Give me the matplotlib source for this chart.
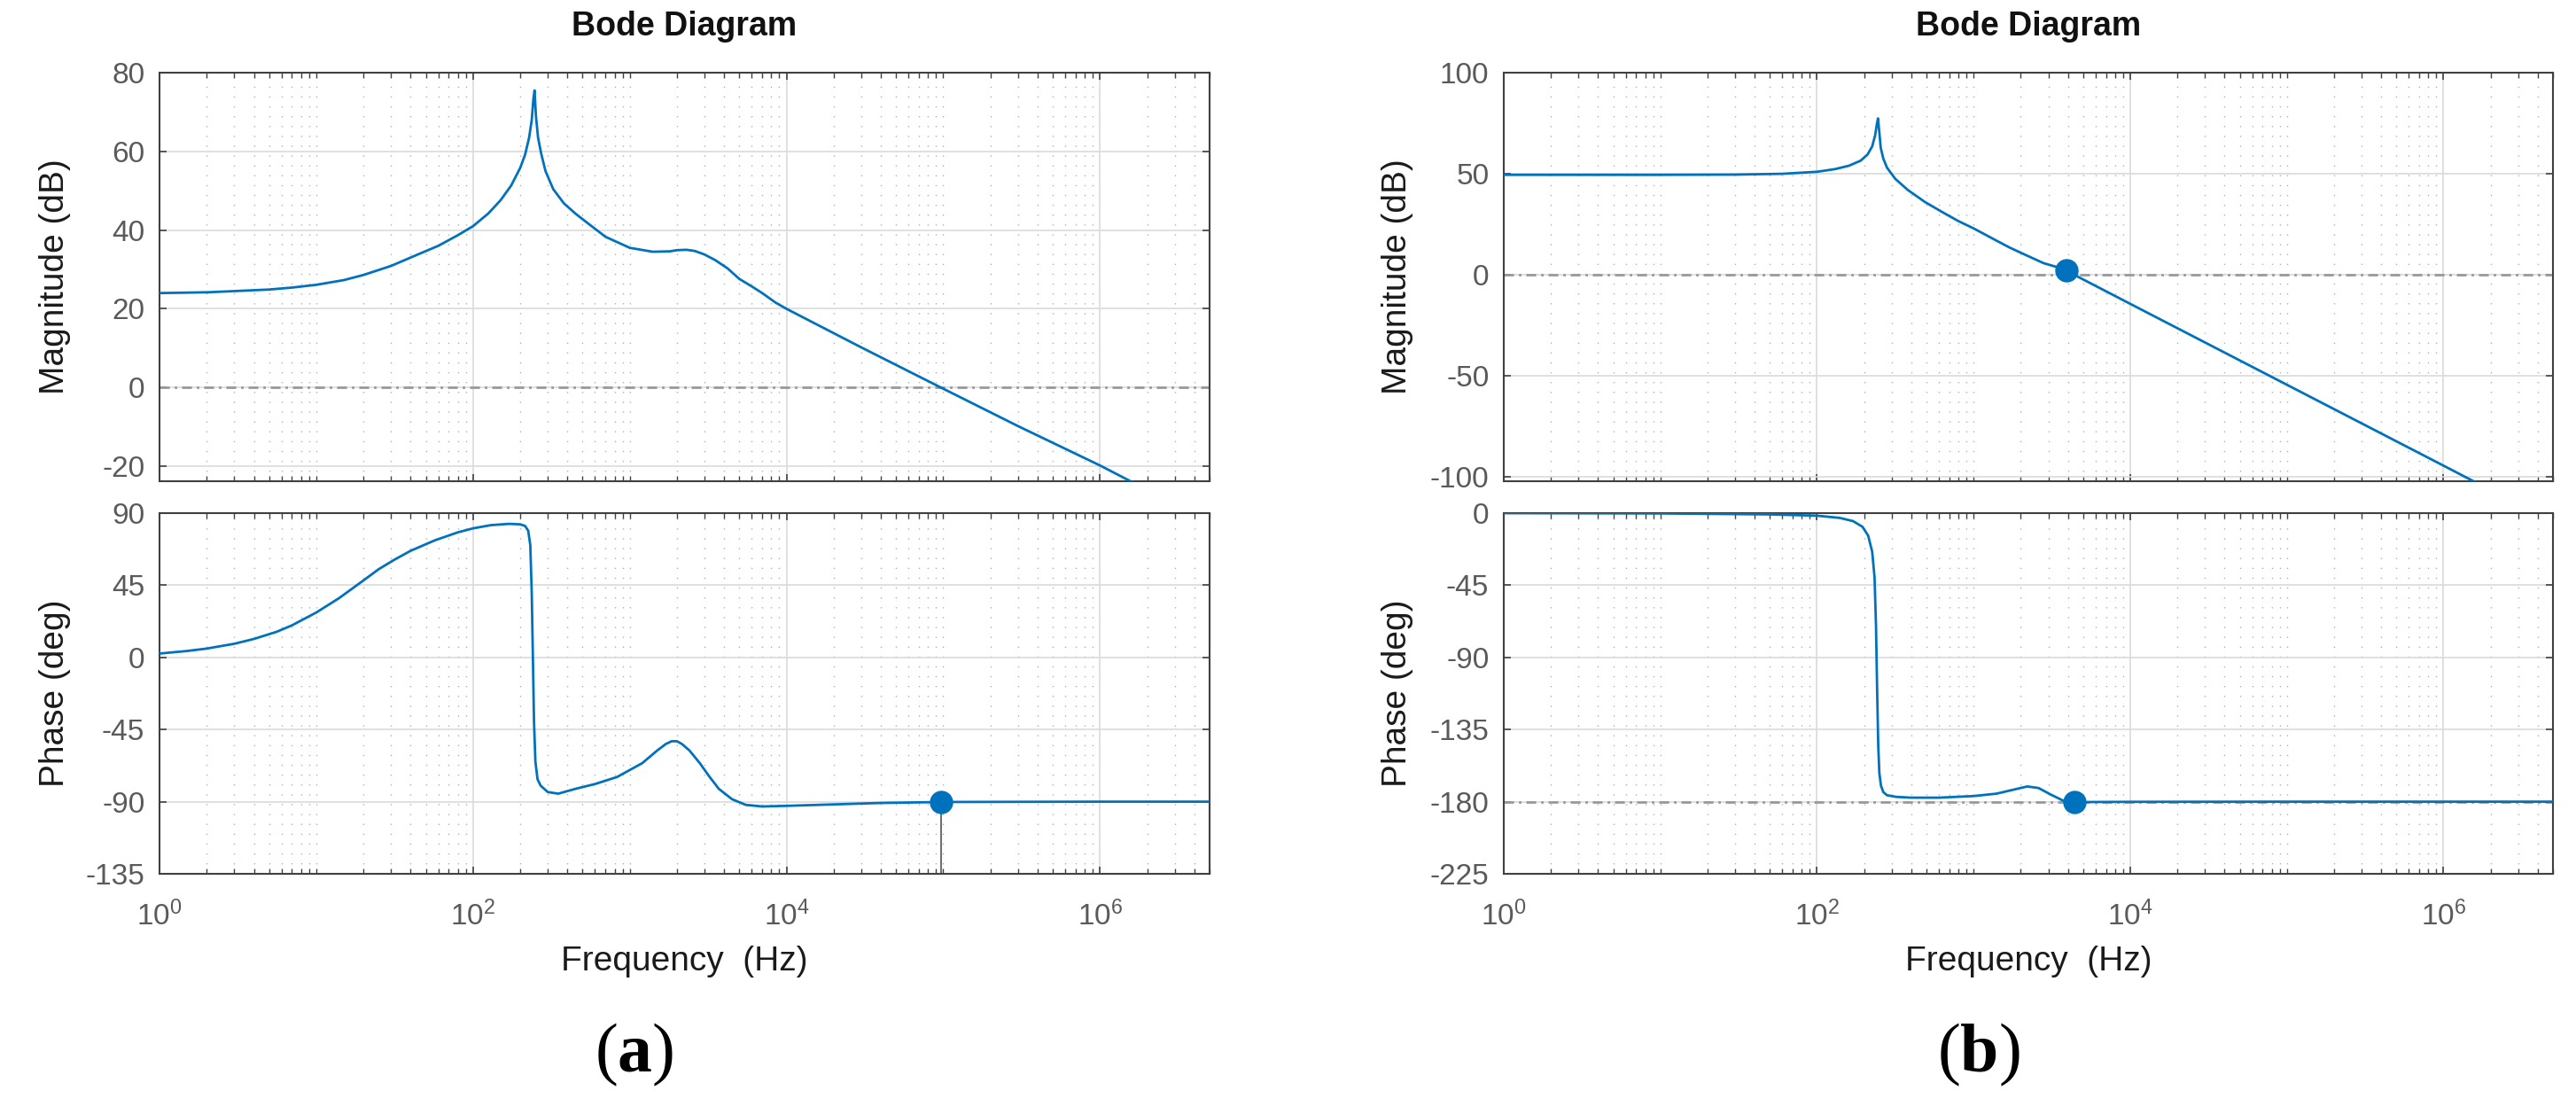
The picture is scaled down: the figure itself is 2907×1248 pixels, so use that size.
import numpy as np
import matplotlib.pyplot as plt
from matplotlib.ticker import LogLocator, NullFormatter

plt.rcParams['font.family'] = ['Liberation Sans', 'DejaVu Sans']
plt.rcParams['axes.unicode_minus'] = False
plt.rcParams['mathtext.fontset'] = 'custom'
plt.rcParams['mathtext.rm'] = 'Liberation Serif'
plt.rcParams['mathtext.bf'] = 'Liberation Serif:bold'

# (a) magnitude
freq_mag_a = [1, 2, 3, 5, 7, 10, 15, 20, 30, 45, 60, 80, 100, 125, 150, 175, 200, 215,
              228, 237, 243, 247, 252, 260, 272, 290, 325, 380, 450, 550, 700, 1000,
              1400, 1800, 2000, 2300, 2600, 3000, 3500, 4200, 5000, 6000, 7000, 8500,
              1e4, 3e4, 1e5, 3e5, 1e6, 1.6e6]
mag_a = [24.0, 24.2, 24.5, 24.9, 25.4, 26.1, 27.3, 28.6, 30.9, 33.9, 36.0, 38.7, 41.0,
         44.2, 47.6, 51.3, 55.8, 59.2, 63.5, 68.0, 73.5, 75.5, 69.0, 63.5, 59.5, 55.0,
         50.4, 46.8, 44.2, 41.5, 38.3, 35.5, 34.5, 34.6, 34.9, 35.0, 34.7, 33.8, 32.4,
         30.3, 27.6, 25.7, 24.0, 21.6, 20.0, 10.2, -0.3, -9.8, -19.8, -24.0]

# (a) phase
freq_ph_a = [1, 1.5, 2, 3, 4, 5.6, 7, 10, 14, 17, 20, 25, 31.6, 40, 57, 80, 100, 130,
             170, 200, 215, 225, 232, 237, 241, 245, 250, 258, 270, 300, 350, 450, 600,
             830, 1200, 1500, 1700, 1850, 2000, 2150, 2400, 2800, 3200, 3700, 4500,
             5500, 7000, 1e4, 2e4, 4e4, 1e5, 1e6, 5e6]
ph_a = [2.4, 4.0, 5.5, 8.5, 11.5, 16.0, 20.0, 28.0, 37.0, 43.0, 48.0, 55.0, 61.0, 66.5,
        73.0, 78.0, 80.5, 82.5, 83.3, 83.0, 82.0, 79.0, 70.0, 40.0, 0.0, -40.0, -65.0,
        -76.0, -80.0, -84.0, -85.0, -82.0, -79.0, -74.6, -66.0, -58.0, -54.0, -52.3,
        -52.3, -54.0, -58.0, -66.0, -74.0, -82.0, -88.5, -92.0, -93.0, -92.6, -91.7,
        -90.8, -90.2, -90.0, -90.0]

# (b) magnitude
freq_mag_b = [1, 10, 30, 60, 100, 130, 160, 190, 210, 225, 235, 241, 245, 249, 255, 265,
              280, 316, 380, 490, 650, 800, 1000, 1320, 1700, 2200, 2800, 3300, 3900,
              4400, 1e4, 1e5, 1e6, 1.6e6]
mag_b = [49.5, 49.5, 49.6, 50.0, 51.0, 52.3, 54.0, 56.5, 59.5, 63.5, 69.0, 74.5, 77.4,
         72.0, 63.0, 57.5, 53.0, 47.5, 42.0, 36.0, 30.5, 26.6, 23.0, 18.0, 13.5, 9.5,
         5.8, 4.2, 2.3, 0.0, -14.3, -54.3, -94.3, -102.5]

# (b) phase
freq_ph_b = [1, 10, 50, 100, 140, 170, 195, 212, 225, 233, 238, 242, 246, 250, 256, 265,
             280, 320, 400, 600, 1000, 1400, 1800, 2200, 2600, 3100, 3700, 3900, 4400,
             6000, 1e4, 1e5, 5e6]
ph_b = [0.0, -0.2, -0.8, -1.6, -3.0, -5.0, -8.5, -14.0, -24.0, -40.0, -70.0, -110.0,
        -145.0, -162.0, -170.0, -174.0, -176.0, -177.0, -177.5, -177.5, -176.5, -175.0,
        -172.5, -170.5, -171.5, -175.5, -179.2, -180.0, -180.3, -180.2, -180.1, -180.0,
        -180.0]

# margin markers (frequency, value)
pm_a = (9.7e4, -90.0)
gm_b = (3.9e3, 2.3)
pm_b = (4.4e3, -180.3)

blue = '#0072BD'
W, H = 2907, 1248
fig = plt.figure(figsize=(W / 100, H / 100), dpi=100)


def box(x0, y0, x1, y1):
    return [x0 / W, 1 - y1 / H, (x1 - x0) / W, (y1 - y0) / H]


def style(ax, ylim, yticks, xlabels):
    ax.set_xscale('log')
    ax.set_xlim(1, 5e6)
    ax.set_ylim(*ylim)
    ax.set_yticks(yticks)
    ax.xaxis.set_major_locator(LogLocator(base=100, numticks=10))
    ax.xaxis.set_minor_locator(LogLocator(base=10, subs=np.arange(1, 10), numticks=100))
    ax.xaxis.set_minor_formatter(NullFormatter())
    ax.set_axisbelow(True)
    ax.grid(which='major', color='#dadada', lw=1.2, ls='-')
    ax.grid(which='minor', axis='x', color='#b0b0b0', lw=1.0, ls=(0, (1, 7)))
    ax.tick_params(which='both', direction='in', top=True, right=True,
                   colors='#404040', labelcolor='#5a5a5a', labelsize=24)
    ax.tick_params(which='major', length=6, width=1.2)
    ax.tick_params(which='minor', length=4, width=1.0)
    ax.tick_params(axis='y', which='minor', left=False, right=False)
    ax.tick_params(axis='y', pad=12)
    ax.tick_params(axis='x', pad=22, labelbottom=xlabels)
    for s in ax.spines.values():
        s.set_color('#404040')
        s.set_linewidth(1.5)


def refline(ax, y):
    ax.axhline(y, color='#999999', lw=2.0, ls=(0, (4, 2, 1, 2)), zorder=1.5)


# panel (a)
ma = fig.add_axes(box(180, 82, 1365, 543))
pa = fig.add_axes(box(180, 579, 1365, 986))
style(ma, (-23.8, 80), [-20, 0, 20, 40, 60, 80], False)
style(pa, (-135, 90), [-135, -90, -45, 0, 45, 90], True)
refline(ma, 0)
ma.plot(freq_mag_a, mag_a, color=blue, lw=2, zorder=3)
pa.plot(freq_ph_a, ph_a, color=blue, lw=2, zorder=3)
pa.plot([pm_a[0], pm_a[0]], [-180, pm_a[1]], color='#707070', lw=1.5, zorder=2.5)
pa.plot(*pm_a, 'o', ms=18, color=blue, zorder=4)

# panel (b)
mb = fig.add_axes(box(1697, 82, 2881, 543))
pb = fig.add_axes(box(1697, 579, 2881, 986))
style(mb, (-102, 100), [-100, -50, 0, 50, 100], False)
style(pb, (-225, 0), [-225, -180, -135, -90, -45, 0], True)
refline(mb, 0)
refline(pb, -180)
mb.plot(freq_mag_b, mag_b, color=blue, lw=2, zorder=3)
pb.plot(freq_ph_b, ph_b, color=blue, lw=2, zorder=3)
mb.plot([gm_b[0], gm_b[0]], [0, gm_b[1]], color='#707070', lw=1.5, zorder=2.5)
mb.plot(*gm_b, 'o', ms=18, color=blue, zorder=4)
pb.plot(*pm_b, 'o', ms=18, color=blue, zorder=4)

# texts
for cx, ylx, tag in [(772, 62, 'a'), (2289, 1577, 'b')]:
    fig.text(cx / W, 1 - 30 / H, 'Bode Diagram', ha='center', va='center',
             fontsize=27, fontweight='bold', color='#111111')
    fig.text(cx / W, 1 - 1085 / H, 'Frequency  (Hz)', ha='center', va='center',
             fontsize=28, color='#1a1a1a')
    fig.text(ylx / W, 1 - 312 / H, 'Magnitude (dB)', ha='center', va='center',
             rotation=90, fontsize=28, color='#1a1a1a')
    fig.text(ylx / W, 1 - 782 / H, 'Phase (deg)', ha='center', va='center',
             rotation=90, fontsize=28, color='#1a1a1a')
    fig.text((cx - 56) / W, 1 - 1190 / H, r'$(\mathbf{%s})$' % tag, ha='center',
             va='center', fontsize=56, color='black')

fig.savefig('out.png', dpi=100)
